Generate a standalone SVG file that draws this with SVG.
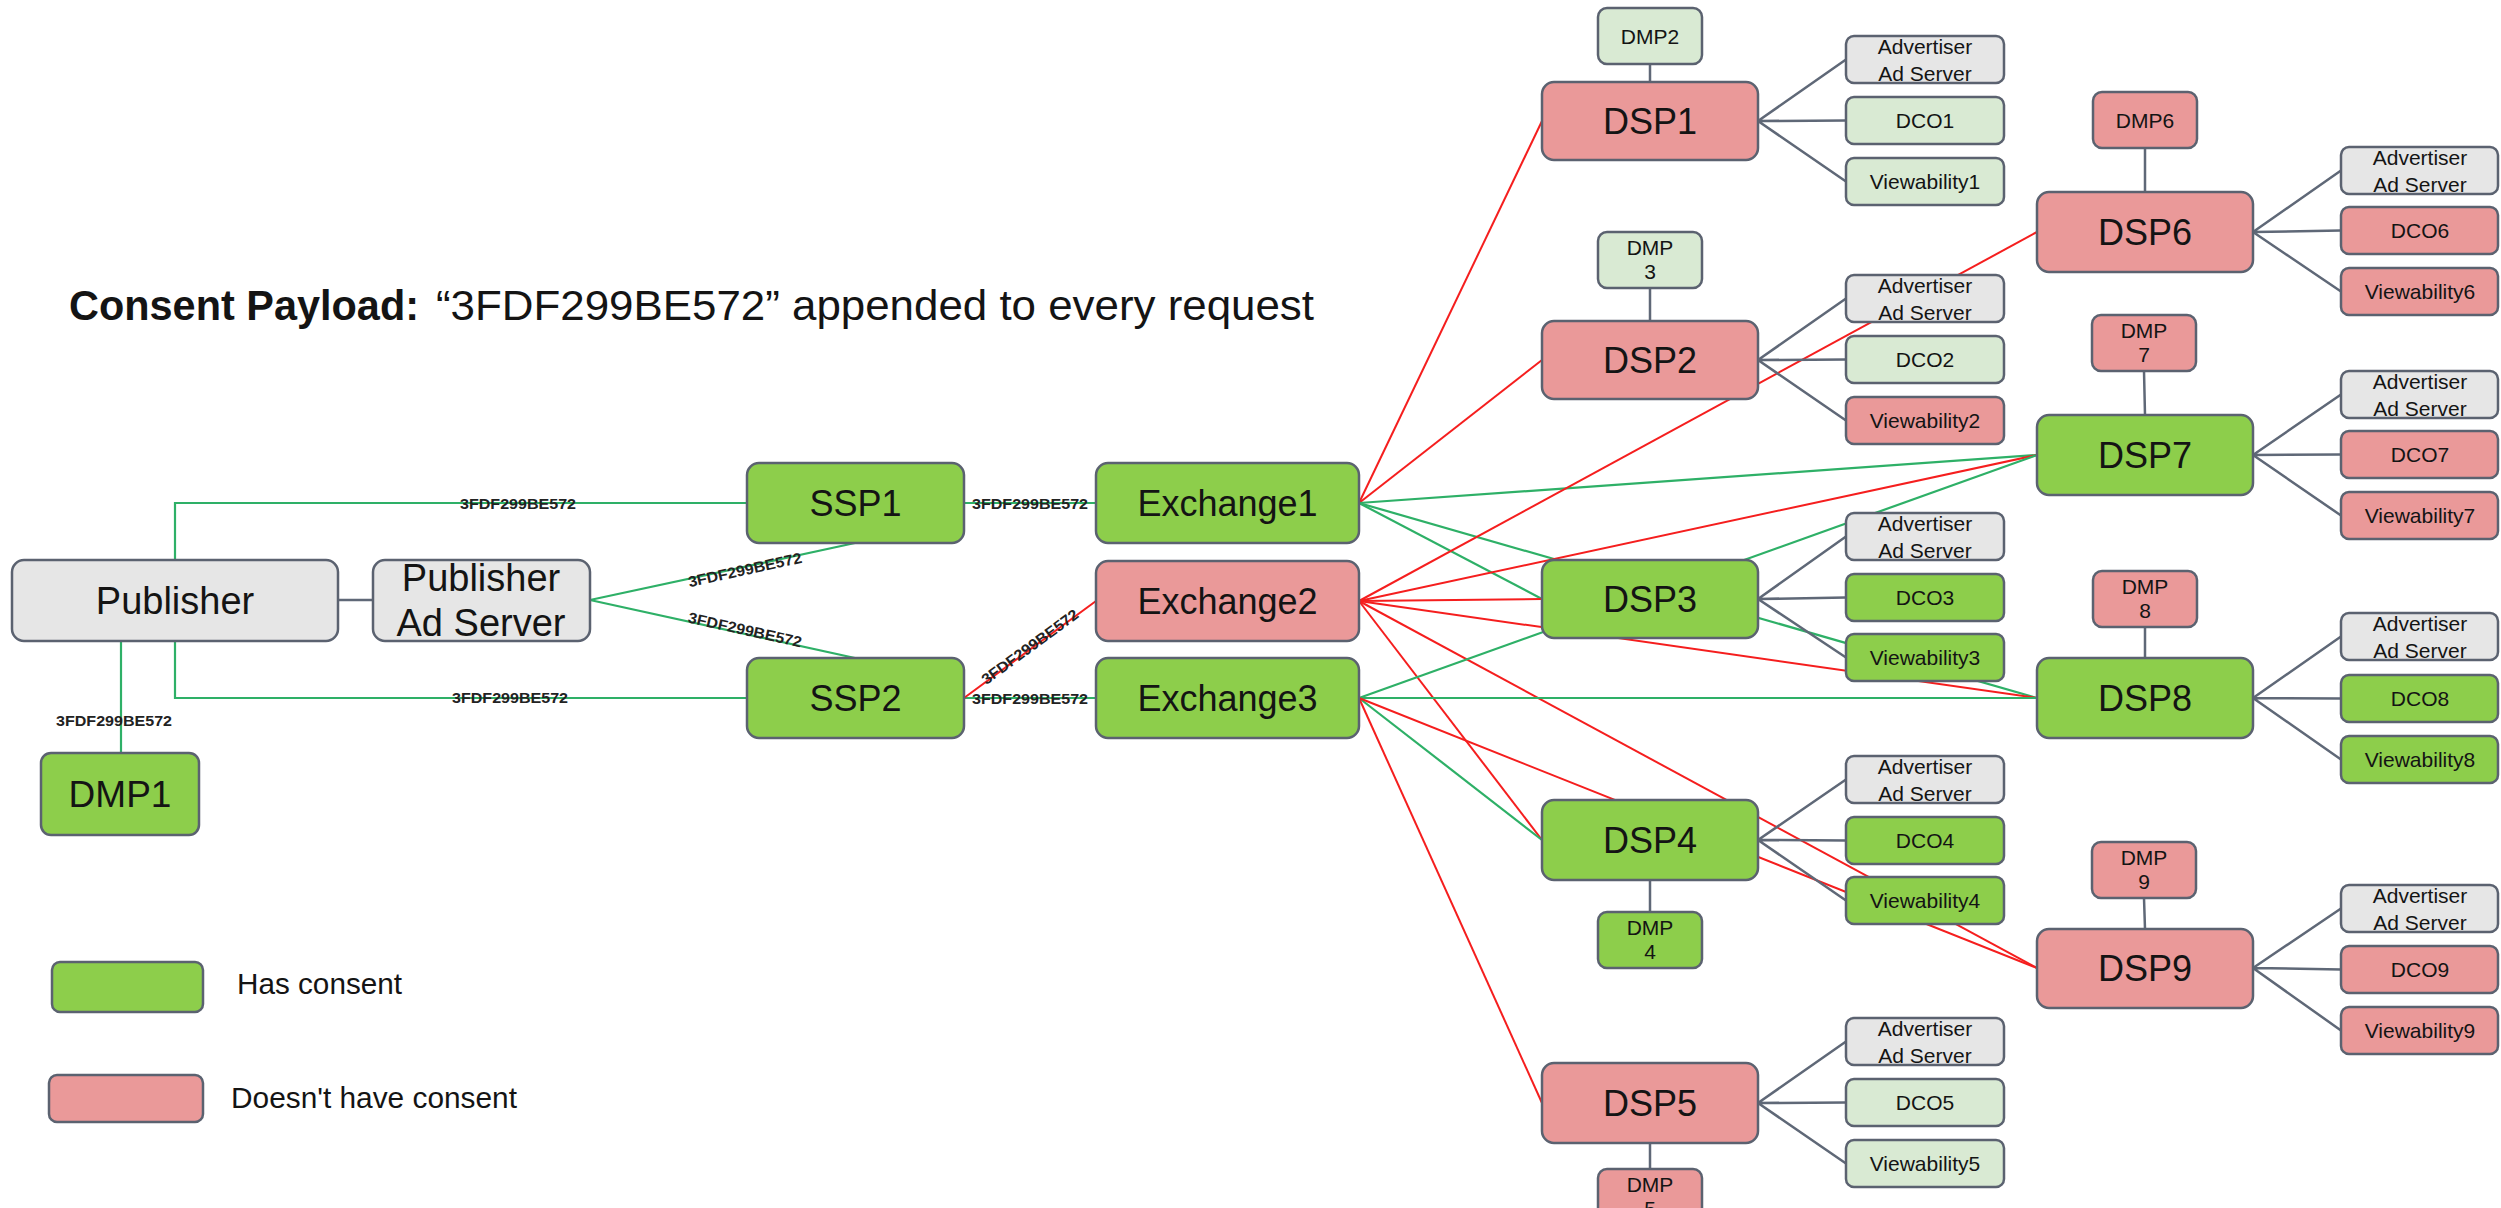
<svg xmlns="http://www.w3.org/2000/svg" width="2501" height="1208" viewBox="0 0 2501 1208">
<style>
text{font-family:"Liberation Sans",Arial,sans-serif;fill:#141414}
.n rect{stroke:#5b6270;stroke-width:2.5}
.g rect{fill:#8dce4b}
.p rect{fill:#ea9999}
.l rect{fill:#d9ead3}
.y rect{fill:#e6e6e6}
.big{font-size:36px;text-anchor:middle}
.sm{font-size:21px;text-anchor:middle}
.lab{font-size:15px;font-weight:bold;text-anchor:middle;fill:#222}
.cg{stroke:#2eb067;stroke-width:2.2;fill:none}
.cr{stroke:#f51e1e;stroke-width:2;fill:none}
.cs{stroke:#5f6877;stroke-width:2.5;fill:none}
</style>
<rect width="2501" height="1208" fill="#ffffff"/>

<g id="title">
<text x="69" y="320" font-size="42" font-weight="bold" textLength="350" lengthAdjust="spacingAndGlyphs">Consent Payload:</text>
<text x="436" y="320" font-size="42" textLength="878" lengthAdjust="spacingAndGlyphs">“3FDF299BE572” appended to every request</text>
</g>

<g id="connectors">
<!-- publisher side -->
<line class="cs" x1="338" y1="600" x2="373" y2="600"/>
<polyline class="cg" points="175,560 175,503 747,503"/>
<polyline class="cg" points="175,641 175,698 747,698"/>
<line class="cg" x1="121" y1="641" x2="121" y2="753"/>
<line class="cg" x1="590" y1="600" x2="855" y2="543"/>
<line class="cg" x1="590" y1="600" x2="855" y2="658"/>
<line class="cg" x1="964" y1="503" x2="1096" y2="503"/>
<line class="cg" x1="964" y1="698" x2="1096" y2="698"/>
<line class="cr" x1="964" y1="698" x2="1096" y2="601"/>
<!-- exchange1 -->
<line class="cr" x1="1359" y1="503" x2="1542" y2="121"/>
<line class="cr" x1="1359" y1="503" x2="1542" y2="360"/>
<line class="cg" x1="1359" y1="503" x2="2037" y2="455"/>
<line class="cg" x1="1359" y1="503" x2="1542" y2="599"/>
<line class="cg" x1="1359" y1="503" x2="2037" y2="698"/>
<!-- exchange2 -->
<line class="cr" x1="1359" y1="601" x2="2037" y2="232"/>
<line class="cr" x1="1359" y1="601" x2="2037" y2="455"/>
<line class="cr" x1="1359" y1="601" x2="1542" y2="599"/>
<line class="cr" x1="1359" y1="601" x2="2037" y2="698"/>
<line class="cr" x1="1359" y1="601" x2="1542" y2="840"/>
<line class="cr" x1="1359" y1="601" x2="2037" y2="968"/>
<!-- exchange3 -->
<line class="cg" x1="1359" y1="698" x2="2037" y2="698" stroke-width="3"/>
<line class="cg" x1="1359" y1="698" x2="2037" y2="455"/>
<line class="cg" x1="1359" y1="698" x2="1542" y2="840"/>
<line class="cr" x1="1359" y1="698" x2="2037" y2="968"/>
<line class="cr" x1="1359" y1="698" x2="1542" y2="1103"/>
<!-- DSP sub links -->
<path class="cs" d="M1758,121L1846,59.5M1758,121L1846,120.5M1758,121L1846,181.5
M1758,360L1846,298.5M1758,360L1846,359.5M1758,360L1846,420.5
M1758,599L1846,536.5M1758,599L1846,597.5M1758,599L1846,657.5
M1758,840L1846,779.5M1758,840L1846,840.5M1758,840L1846,900.5
M1758,1103L1846,1041.5M1758,1103L1846,1102.5M1758,1103L1846,1163.5
M2253,232L2341,170.5M2253,232L2341,230.5M2253,232L2341,291.5
M2253,455L2341,394.5M2253,455L2341,454.5M2253,455L2341,515.5
M2253,698L2341,636.5M2253,698L2341,698.5M2253,698L2341,759.5
M2253,968L2341,908.5M2253,968L2341,969.5M2253,968L2341,1030.5
M1650,64L1650,82M1650,288L1650,321M1650,880L1650,912M1650,1143L1650,1169
M2145,148L2145,192M2144,371L2145,415M2145,627L2145,658M2144,898L2145,929"/>
</g>

<g id="labels">
<text class="lab" x="518" y="508.5" textLength="116" lengthAdjust="spacingAndGlyphs">3FDF299BE572</text>
<text class="lab" x="510" y="703" textLength="116" lengthAdjust="spacingAndGlyphs">3FDF299BE572</text>
<text class="lab" x="114" y="725.5" textLength="116" lengthAdjust="spacingAndGlyphs">3FDF299BE572</text>
<text class="lab" x="0" y="0" textLength="116" lengthAdjust="spacingAndGlyphs" transform="translate(745,570) rotate(-12.3) translate(0,5)">3FDF299BE572</text>
<text class="lab" x="0" y="0" textLength="116" lengthAdjust="spacingAndGlyphs" transform="translate(745,630) rotate(12.5) translate(0,5)">3FDF299BE572</text>
<text class="lab" x="1030" y="508.5" textLength="116" lengthAdjust="spacingAndGlyphs">3FDF299BE572</text>
<text class="lab" x="1030" y="703.5" textLength="116" lengthAdjust="spacingAndGlyphs">3FDF299BE572</text>
<text class="lab" x="0" y="0" textLength="116" lengthAdjust="spacingAndGlyphs" transform="translate(1030,647) rotate(-36.2) translate(0,5)">3FDF299BE572</text>
</g>

<g id="publisher" class="n y"><rect x="12" y="560" width="326" height="81" rx="12"/><text x="175" y="614" font-size="38" text-anchor="middle">Publisher</text></g>
<g id="publisher-ad-server" class="n y"><rect x="373" y="560" width="217" height="81" rx="12"/><text x="481" y="591" font-size="38" text-anchor="middle">Publisher</text><text x="481" y="636" font-size="38" text-anchor="middle">Ad Server</text></g>
<g id="dmp1" class="n g"><rect x="41" y="753" width="158" height="82" rx="10"/><text x="120" y="807" font-size="37" text-anchor="middle">DMP1</text></g>
<g id="ssp1" class="n g"><rect x="747" y="463" width="217" height="80" rx="12"/><text class="big" x="855.5" y="516">SSP1</text></g>
<g id="ssp2" class="n g"><rect x="747" y="658" width="217" height="80" rx="12"/><text class="big" x="855.5" y="711">SSP2</text></g>
<g id="exchange1" class="n g"><rect x="1096" y="463" width="263" height="80" rx="12"/><text class="big" x="1227.5" y="516">Exchange1</text></g>
<g id="exchange2" class="n p"><rect x="1096" y="561" width="263" height="80" rx="12"/><text class="big" x="1227.5" y="614">Exchange2</text></g>
<g id="exchange3" class="n g"><rect x="1096" y="658" width="263" height="80" rx="12"/><text class="big" x="1227.5" y="711">Exchange3</text></g>

<g id="dsp1" class="n p"><rect x="1542" y="82" width="216" height="78" rx="12"/><text class="big" x="1650" y="134">DSP1</text></g>
<g id="dsp2" class="n p"><rect x="1542" y="321" width="216" height="78" rx="12"/><text class="big" x="1650" y="373">DSP2</text></g>
<g id="dsp3" class="n g"><rect x="1542" y="560" width="216" height="78" rx="12"/><text class="big" x="1650" y="612">DSP3</text></g>
<g id="dsp4" class="n g"><rect x="1542" y="800" width="216" height="80" rx="12"/><text class="big" x="1650" y="853">DSP4</text></g>
<g id="dsp5" class="n p"><rect x="1542" y="1063" width="216" height="80" rx="12"/><text class="big" x="1650" y="1116">DSP5</text></g>
<g id="dsp6" class="n p"><rect x="2037" y="192" width="216" height="80" rx="12"/><text class="big" x="2145" y="245">DSP6</text></g>
<g id="dsp7" class="n g"><rect x="2037" y="415" width="216" height="80" rx="12"/><text class="big" x="2145" y="468">DSP7</text></g>
<g id="dsp8" class="n g"><rect x="2037" y="658" width="216" height="80" rx="12"/><text class="big" x="2145" y="711">DSP8</text></g>
<g id="dsp9" class="n p"><rect x="2037" y="929" width="216" height="79" rx="12"/><text class="big" x="2145" y="981">DSP9</text></g>

<g id="dmp2" class="n l"><rect x="1598" y="8" width="104" height="56" rx="9"/><text class="sm" x="1650" y="43.5">DMP2</text></g>
<g id="dmp3" class="n l"><rect x="1598" y="232" width="104" height="56" rx="9"/><text class="sm" x="1650" y="255">DMP</text><text class="sm" x="1650" y="279">3</text></g>
<g id="dmp4" class="n g"><rect x="1598" y="912" width="104" height="56" rx="9"/><text class="sm" x="1650" y="935">DMP</text><text class="sm" x="1650" y="959">4</text></g>
<g id="dmp5" class="n p"><rect x="1598" y="1169" width="104" height="56" rx="9"/><text class="sm" x="1650" y="1192">DMP</text><text class="sm" x="1650" y="1216">5</text></g>
<g id="dmp6" class="n p"><rect x="2093" y="92" width="104" height="56" rx="9"/><text class="sm" x="2145" y="127.5">DMP6</text></g>
<g id="dmp7" class="n p"><rect x="2092" y="315" width="104" height="56" rx="9"/><text class="sm" x="2144" y="338">DMP</text><text class="sm" x="2144" y="362">7</text></g>
<g id="dmp8" class="n p"><rect x="2093" y="571" width="104" height="56" rx="9"/><text class="sm" x="2145" y="594">DMP</text><text class="sm" x="2145" y="618">8</text></g>
<g id="dmp9" class="n p"><rect x="2092" y="842" width="104" height="56" rx="9"/><text class="sm" x="2144" y="865">DMP</text><text class="sm" x="2144" y="889">9</text></g>

<g id="adv1" class="n y"><rect x="1846" y="36" width="158" height="47" rx="8"/><text class="sm" x="1925" y="54">Advertiser</text><text class="sm" x="1925" y="81">Ad Server</text></g>
<g id="dco1" class="n l"><rect x="1846" y="97" width="158" height="47" rx="8"/><text class="sm" x="1925" y="128">DCO1</text></g>
<g id="view1" class="n l"><rect x="1846" y="158" width="158" height="47" rx="8"/><text class="sm" x="1925" y="189">Viewability1</text></g>

<g id="adv2" class="n y"><rect x="1846" y="275" width="158" height="47" rx="8"/><text class="sm" x="1925" y="293">Advertiser</text><text class="sm" x="1925" y="320">Ad Server</text></g>
<g id="dco2" class="n l"><rect x="1846" y="336" width="158" height="47" rx="8"/><text class="sm" x="1925" y="367">DCO2</text></g>
<g id="view2" class="n p"><rect x="1846" y="397" width="158" height="47" rx="8"/><text class="sm" x="1925" y="428">Viewability2</text></g>

<g id="adv3" class="n y"><rect x="1846" y="513" width="158" height="47" rx="8"/><text class="sm" x="1925" y="531">Advertiser</text><text class="sm" x="1925" y="558">Ad Server</text></g>
<g id="dco3" class="n g"><rect x="1846" y="574" width="158" height="47" rx="8"/><text class="sm" x="1925" y="605">DCO3</text></g>
<g id="view3" class="n g"><rect x="1846" y="634" width="158" height="47" rx="8"/><text class="sm" x="1925" y="665">Viewability3</text></g>

<g id="adv4" class="n y"><rect x="1846" y="756" width="158" height="47" rx="8"/><text class="sm" x="1925" y="774">Advertiser</text><text class="sm" x="1925" y="801">Ad Server</text></g>
<g id="dco4" class="n g"><rect x="1846" y="817" width="158" height="47" rx="8"/><text class="sm" x="1925" y="848">DCO4</text></g>
<g id="view4" class="n g"><rect x="1846" y="877" width="158" height="47" rx="8"/><text class="sm" x="1925" y="908">Viewability4</text></g>

<g id="adv5" class="n y"><rect x="1846" y="1018" width="158" height="47" rx="8"/><text class="sm" x="1925" y="1036">Advertiser</text><text class="sm" x="1925" y="1063">Ad Server</text></g>
<g id="dco5" class="n l"><rect x="1846" y="1079" width="158" height="47" rx="8"/><text class="sm" x="1925" y="1110">DCO5</text></g>
<g id="view5" class="n l"><rect x="1846" y="1140" width="158" height="47" rx="8"/><text class="sm" x="1925" y="1171">Viewability5</text></g>

<g id="adv6" class="n y"><rect x="2341" y="147" width="157" height="47" rx="8"/><text class="sm" x="2420" y="165">Advertiser</text><text class="sm" x="2420" y="192">Ad Server</text></g>
<g id="dco6" class="n p"><rect x="2341" y="207" width="157" height="47" rx="8"/><text class="sm" x="2420" y="238">DCO6</text></g>
<g id="view6" class="n p"><rect x="2341" y="268" width="157" height="47" rx="8"/><text class="sm" x="2420" y="299">Viewability6</text></g>

<g id="adv7" class="n y"><rect x="2341" y="371" width="157" height="47" rx="8"/><text class="sm" x="2420" y="389">Advertiser</text><text class="sm" x="2420" y="416">Ad Server</text></g>
<g id="dco7" class="n p"><rect x="2341" y="431" width="157" height="47" rx="8"/><text class="sm" x="2420" y="462">DCO7</text></g>
<g id="view7" class="n p"><rect x="2341" y="492" width="157" height="47" rx="8"/><text class="sm" x="2420" y="523">Viewability7</text></g>

<g id="adv8" class="n y"><rect x="2341" y="613" width="157" height="47" rx="8"/><text class="sm" x="2420" y="631">Advertiser</text><text class="sm" x="2420" y="658">Ad Server</text></g>
<g id="dco8" class="n g"><rect x="2341" y="675" width="157" height="47" rx="8"/><text class="sm" x="2420" y="706">DCO8</text></g>
<g id="view8" class="n g"><rect x="2341" y="736" width="157" height="47" rx="8"/><text class="sm" x="2420" y="767">Viewability8</text></g>

<g id="adv9" class="n y"><rect x="2341" y="885" width="157" height="47" rx="8"/><text class="sm" x="2420" y="903">Advertiser</text><text class="sm" x="2420" y="930">Ad Server</text></g>
<g id="dco9" class="n p"><rect x="2341" y="946" width="157" height="47" rx="8"/><text class="sm" x="2420" y="977">DCO9</text></g>
<g id="view9" class="n p"><rect x="2341" y="1007" width="157" height="47" rx="8"/><text class="sm" x="2420" y="1038">Viewability9</text></g>

<g id="legend">
<g class="n g"><rect x="52" y="962" width="151" height="50" rx="8"/></g>
<text x="237" y="994" font-size="29" textLength="165" lengthAdjust="spacingAndGlyphs">Has consent</text>
<g class="n p"><rect x="49" y="1075" width="154" height="47" rx="8"/></g>
<text x="231" y="1108" font-size="29" textLength="286" lengthAdjust="spacingAndGlyphs">Doesn't have consent</text>
</g>
</svg>
